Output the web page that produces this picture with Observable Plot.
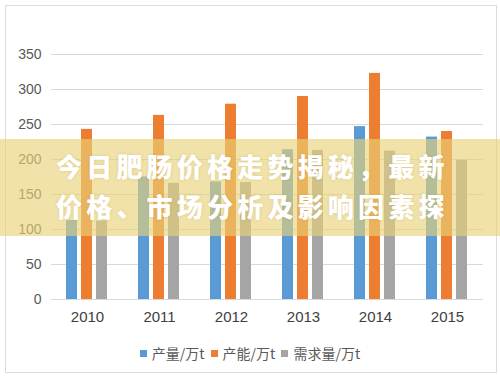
<!DOCTYPE html>
<html>
<head>
<meta charset="utf-8">
<script src="https://cdn.jsdelivr.net/npm/d3@7"></script>
<script src="https://cdn.jsdelivr.net/npm/@observablehq/plot@0.6"></script>
<style>
  html, body { margin: 0; padding: 0; background: #fff; }
  #wrap { position: relative; width: 500px; height: 377px; overflow: hidden; background: #fff; }
  #frame { position: absolute; left: 5px; top: 5px; width: 490px; height: 366px; border: 1px solid #dcdcdc; }
  #chart { position: absolute; left: 0; top: 0; }
  #legend { position: absolute; left: 0; width: 500px; top: 343px; display: flex; justify-content: center; align-items: center;
            font-family: "Noto Sans CJK SC", sans-serif; font-size: 14px; color: #595959; }
  #legend .item { display: flex; align-items: center; margin: 0 3px; }
  #legend .sw { width: 7px; height: 7px; margin-right: 5px; }
  #banner { position: absolute; left: 0; top: 139px; width: 500px; height: 97px; background: rgba(232, 210, 119, 0.64); }
  #title { position: absolute; left: 56px; top: 146px; font-family: "Noto Sans CJK SC", sans-serif; font-weight: 900;
           font-size: 26px; line-height: 40px; letter-spacing: 4.2px; color: #fff; white-space: nowrap;
           text-shadow: 0 0 3px rgba(140, 110, 40, 0.2); }
</style>
</head>
<body>
<div id="wrap">
  <div id="frame"></div>
  <div id="chart"></div>
  <div id="legend"></div>
  <div id="banner"></div>
  <div id="title"></div>
</div>
<script>
const years = ["2010", "2011", "2012", "2013", "2014", "2015"];
const production = [113, 175, 168, 214, 247, 232];
const capacity = [243, 263, 279, 290, 323, 240];
const demand = [112, 166, 167, 213, 212, 199];
const seriesNames = ["产量/万t", "产能/万t", "需求量/万t"];
const seriesColors = ["#5B9BD5", "#ED7D31", "#A5A5A5"];
const yTicks = [0, 50, 100, 150, 200, 250, 300, 350];
const titleLines = ["今日肥肠价格走势揭秘，最新", "价格、市场分析及影响因素探"];

const seriesValues = [production, capacity, demand];
const data = years.flatMap((yr, i) => seriesNames.map((s, j) => ({year: yr, series: s, value: seriesValues[j][i]})));

const chart = Plot.plot({
  width: 500,
  height: 330,
  marginTop: 54,
  marginBottom: 31,
  marginLeft: 50,
  marginRight: 17,
  style: {fontFamily: "'Liberation Sans', Arial, sans-serif", background: "transparent", color: "#595959", overflow: "visible"},
  fx: {domain: years, padding: 0, label: null},
  x: {domain: seriesNames, paddingInner: 0.25, paddingOuter: 0.88, axis: null},
  y: {domain: [0, 350], label: null},
  color: {domain: seriesNames, range: seriesColors},
  marks: [
    Plot.ruleY(yTicks, {stroke: "#d9d9d9", strokeWidth: 1}),
    Plot.barY(data, {fx: "year", x: "series", y: "value", fill: "series"}),
    Plot.axisY(yTicks, {tickSize: 0, tickPadding: 10, fontSize: 14, label: null, fill: "#595959"}),
    Plot.axisFx({anchor: "bottom", tickSize: 0, tickPadding: 12, fontSize: 15, label: null, fill: "#404040"})
  ]
});
document.getElementById("chart").appendChild(chart);

const legend = document.getElementById("legend");
seriesNames.forEach((s, i) => {
  const item = document.createElement("div");
  item.className = "item";
  const sw = document.createElement("span");
  sw.className = "sw";
  sw.style.background = seriesColors[i];
  const tx = document.createElement("span");
  tx.textContent = s;
  item.appendChild(sw);
  item.appendChild(tx);
  legend.appendChild(item);
});

document.getElementById("title").innerHTML = titleLines.map(l => `<div>${l}</div>`).join("");
</script>
</body>
</html>
